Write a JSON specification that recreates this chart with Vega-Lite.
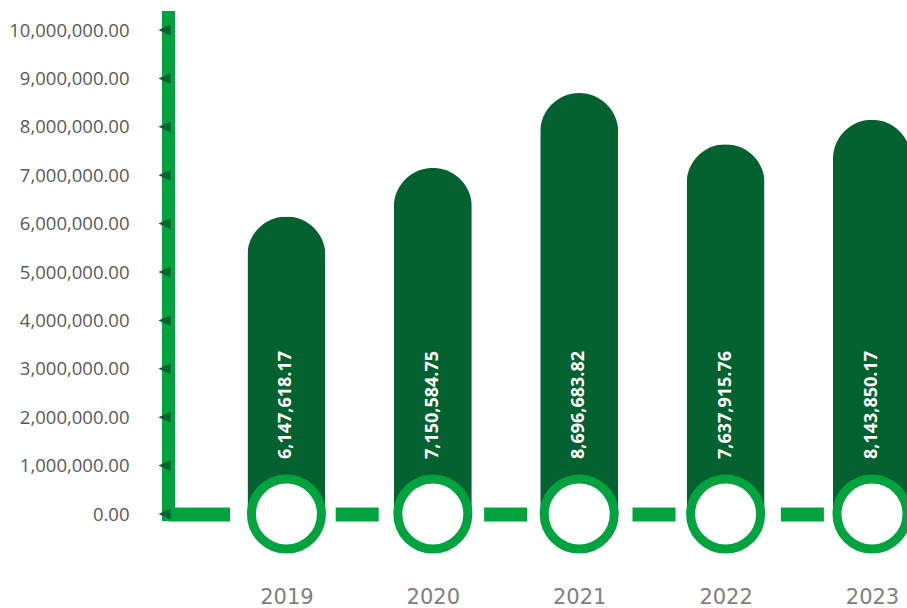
{
  "$schema": "https://vega.github.io/schema/vega-lite/v6.json",
  "width": 739,
  "height": 497,
  "autosize": {"type": "none"},
  "padding": {"left": 168, "top": 17, "right": 0, "bottom": 94},
  "background": "white",
  "config": {"view": {"stroke": null}},
  "datasets": {
    "sales": [
      {"year": 2019, "value": 6147618.17},
      {"year": 2020, "value": 7150584.75},
      {"year": 2021, "value": 8696683.82},
      {"year": 2022, "value": 7637915.76},
      {"year": 2023, "value": 8143850.17}
    ],
    "ticks": [
      {"v": 0}, {"v": 1000000}, {"v": 2000000}, {"v": 3000000}, {"v": 4000000},
      {"v": 5000000}, {"v": 6000000}, {"v": 7000000}, {"v": 8000000}, {"v": 9000000}, {"v": 10000000}
    ]
  },
  "layer": [
    {
      "data": {"name": "sales"},
      "mark": {"type": "bar", "size": 78, "color": "#03622F", "cornerRadiusTopLeft": 39, "cornerRadiusTopRight": 39},
      "encoding": {
        "x": {
          "field": "year", "type": "quantitative",
          "scale": {"domain": [2018.225, 2023.205], "nice": false, "zero": false},
          "axis": {
            "title": null, "values": [2019, 2020, 2021, 2022, 2023], "format": "d",
            "ticks": false, "grid": false, "labelPadding": 72,
            "labelFont": "DejaVu Sans", "labelFontSize": 21, "labelColor": "#7F7F7F",
            "labelFlush": false, "labelOverlap": false,
            "domainColor": "#00A33E", "domainWidth": 14,
            "domainDash": [61.5, 105.7, 43, 105.4, 43, 105.4, 43, 105.4, 43, 300],
            "zindex": 0
          }
        },
        "y": {
          "field": "value", "type": "quantitative",
          "scale": {"domain": [0, 10268600], "nice": false, "zero": true},
          "axis": {
            "title": null, "values": [0, 1000000, 2000000, 3000000, 4000000, 5000000, 6000000, 7000000, 8000000, 9000000, 10000000],
            "format": ",.2f", "ticks": false, "grid": false, "labelPadding": 39,
            "labelFont": "Open Sans", "labelFontSize": 18.5, "labelColor": "#595959",
            "domainColor": "#00A33E", "domainWidth": 13, "domainCap": "square",
            "zindex": 0
          }
        }
      }
    },
    {
      "data": {"name": "sales"},
      "mark": {"type": "point", "shape": "circle", "filled": false, "fill": "white", "fillOpacity": 1, "stroke": "#00A33E", "strokeWidth": 9, "size": 4900, "opacity": 1},
      "encoding": {
        "x": {"field": "year", "type": "quantitative"},
        "y": {"datum": 0}
      }
    },
    {
      "data": {"name": "sales"},
      "mark": {"type": "text", "angle": 270, "align": "left", "baseline": "middle", "yOffset": -55, "font": "Open Sans", "fontSize": 18, "fontWeight": "bold", "color": "white"},
      "encoding": {
        "x": {"field": "year", "type": "quantitative"},
        "y": {"datum": 0},
        "text": {"field": "value", "type": "quantitative", "format": ",.2f"}
      }
    },
    {
      "data": {"name": "ticks"},
      "mark": {"type": "point", "shape": "M -2.42 0 L -0.42 -0.9 L -0.42 0.9 Z", "filled": true, "color": "#03622F", "opacity": 1, "size": 144},
      "encoding": {
        "x": {"datum": 2018.225},
        "y": {"field": "v", "type": "quantitative"}
      }
    }
  ]
}
